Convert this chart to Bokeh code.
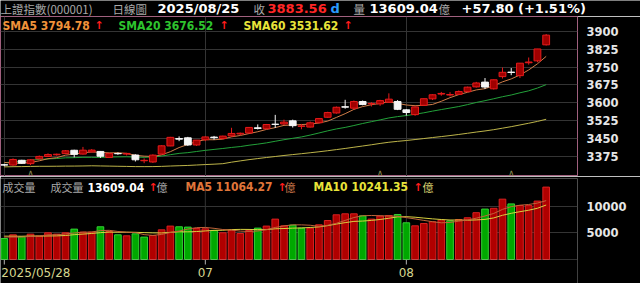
import numpy as np
import pandas as pd
from bokeh.plotting import figure
from bokeh.layouts import column
from bokeh.models import Range1d, FixedTicker, BoxAnnotation, ColumnDataSource, Label
from bokeh.core.properties import value
from bokeh.embed import file_html
from bokeh.resources import INLINE

# ---------------- data ----------------
dates = ["05/28", "05/29", "05/30",
         "06/03", "06/04", "06/05", "06/06", "06/09", "06/10", "06/11", "06/12", "06/13", "06/16",
         "06/17", "06/18", "06/19", "06/20", "06/23", "06/24", "06/25", "06/26", "06/27", "06/30",
         "07/01", "07/02", "07/03", "07/04", "07/07", "07/08", "07/09", "07/10", "07/11", "07/14",
         "07/15", "07/16", "07/17", "07/18", "07/21", "07/22", "07/23", "07/24", "07/25", "07/28",
         "07/29", "07/30", "07/31",
         "08/01", "08/04", "08/05", "08/06", "08/07", "08/08", "08/11", "08/12", "08/13", "08/14",
         "08/15", "08/18", "08/19", "08/20", "08/21", "08/22", "08/25"]
opens = [3341.5, 3340, 3360, 3346, 3366, 3376, 3383, 3388, 3402, 3386,
         3395, 3397, 3372, 3388.5, 3386, 3382, 3358, 3353, 3386, 3420,
         3451, 3454, 3424, 3446, 3457, 3451, 3462, 3470, 3474, 3496,
         3492, 3511, 3512, 3525, 3502, 3499, 3517, 3540, 3558, 3584,
         3578, 3606, 3596, 3596, 3603, 3606, 3571, 3551, 3590, 3617,
         3637, 3633, 3636, 3647, 3667, 3687, 3659, 3710, 3729, 3714,
         3768, 3776, 3843]
highs = [3345, 3368, 3362, 3365, 3380, 3389, 3388, 3403, 3404, 3416,
         3407, 3399, 3390, 3393, 3391, 3385, 3368, 3385, 3423, 3458,
         3460, 3458, 3445, 3460, 3462, 3463, 3496, 3476, 3498, 3510,
         3512, 3550, 3530, 3530, 3512, 3522, 3537, 3563, 3585, 3613,
         3610, 3610, 3603, 3613, 3640, 3612, 3574, 3585, 3618, 3636,
         3646, 3645, 3652, 3668, 3688, 3704, 3698, 3748, 3746, 3767,
         3790, 3826, 3888]
lows = [3335, 3337, 3345, 3340, 3364, 3374, 3379, 3386, 3372, 3384,
        3393, 3370, 3370, 3383, 3380, 3355, 3348, 3349, 3385, 3419,
        3440, 3420, 3420, 3440, 3446, 3448, 3458, 3464, 3473, 3489,
        3489, 3495, 3508, 3497, 3490, 3497, 3515, 3538, 3555, 3576,
        3572, 3590, 3585, 3588, 3600, 3570, 3547, 3546, 3588, 3612,
        3630, 3627, 3634, 3645, 3664, 3658, 3656, 3702, 3716, 3704,
        3760, 3770, 3840]
closes = [3339.93, 3363.45, 3347.49, 3361.98, 3376.20, 3384.10, 3385.36, 3399.77, 3384.82, 3402.32,
          3402.66, 3377.00, 3388.73, 3387.40, 3388.81, 3362.11, 3359.90, 3381.58, 3420.57, 3455.97,
          3448.45, 3424.23, 3444.43, 3457.75, 3454.79, 3461.15, 3472.32, 3473.13, 3497.48, 3493.05,
          3509.68, 3510.18, 3519.65, 3505.00, 3503.78, 3516.83, 3534.48, 3559.79, 3581.86, 3582.30,
          3605.73, 3593.66, 3597.94, 3609.71, 3615.72, 3573.21, 3559.95, 3583.31, 3617.60, 3633.99,
          3639.67, 3635.13, 3647.55, 3665.92, 3683.46, 3666.44, 3696.77, 3728.03, 3727.29, 3766.21,
          3771.10, 3825.76, 3883.56]
volumes = [3950, 4640, 4320, 4770, 4400, 5020, 4770, 5020, 5710, 5150,
           5150, 6150, 5260, 4640, 4450, 4830, 4210, 4510, 5580, 6280,
           6150, 6090, 5830, 5770, 5470, 5020, 5530, 4890, 5450, 5900,
           6280, 7590, 6330, 6470, 5900, 5900, 6520, 7330, 8400, 8590,
           8590, 8210, 7590, 8160, 8270, 8460, 6900, 6330, 6770, 7090,
           7400, 7270, 7520, 7850, 8800, 9480, 9620, 11342.15, 10450, 10150,
           10130, 10982.31, 13609.04]
# closes / volumes before 2025/05/28 (needed for the moving averages)
prior_closes = [3320.90,
                3316.93, 3324.21, 3341.96, 3381.10, 3372.55, 3366.16, 3379.83, 3371.92, 3358.73, 3419.56,
                3426.43, 3429.76, 3426.43, 3408.95, 3364.83, 3370.03, 3369.98, 3368.70, 3373.75, 3351.31,
                3335.75,
                3348.44, 3350.13, 3342.01, 3096.58, 3145.55, 3186.81, 3223.64, 3238.23, 3262.81, 3267.66,
                3276.00, 3280.34, 3276.73, 3291.43, 3299.76, 3296.36, 3297.29, 3295.06, 3288.41, 3286.65,
                3279.03,
                3316.11, 3342.67, 3352.00, 3342.00, 3369.24, 3374.87, 3403.95, 3380.82, 3367.46, 3367.58,
                3380.48, 3387.57, 3380.19, 3348.37, 3346.84, 3340.69]
prior_volumes = [4700, 4450, 4300, 4550, 4800, 4600, 4350, 4150, 4050]

tick_idx = [0, 23, 46]
tick_labels = ["2025/05/28", "07", "08"]
price_ticks = [3375, 3450, 3525, 3600, 3675, 3750, 3825, 3900]
volume_ticks = [5000, 10000]
event_idx = [3, 43, 58]

# ---------------- derived ----------------
n = len(closes)
idx = np.arange(n)
cl_all = pd.Series(prior_closes + closes)
sma5 = cl_all.rolling(5).mean().iloc[-n:].to_numpy()
sma20 = cl_all.rolling(20).mean().iloc[-n:].to_numpy()
sma60 = cl_all.rolling(60).mean().iloc[-n:].to_numpy()
vol_all = pd.Series(prior_volumes + volumes)
vma5 = vol_all.rolling(5).mean().iloc[-n:].to_numpy()
vma10 = vol_all.rolling(10).mean().iloc[-n:].to_numpy()
prev_close = [prior_closes[-1]] + closes[:-1]
chg = closes[-1] - closes[-2]
pct = chg / closes[-2] * 100

# ---------------- layout constants ----------------
BG = "#000000"
GRID = "#343434"
PXB = 8.74                      # pixels per bar
X0 = -3.8 / PXB
X1 = X0 + 577 / PXB
def xpx(px):
    return X0 + px / PXB

PU = 75 / 17.93                 # price units per pixel
P_TOP = 3900 + (30.7 - 16) * PU
P_BOT = 3900 - (176 - 30.7) * PU
def ppx(py):
    return 3900 - (py - 30.7) * PU

VU = 5000 / 26.6                # volume units per pixel
V_TOP = (259 - 178) * VU
V_BOT = -(283 - 259) * VU
def vpx(py):
    return (259 - py) * VU

CJK = "Noto Sans CJK TC"
NUM = "DejaVu Sans"
NUMC = "DejaVu Sans Condensed"
GRAY = "#a9a9a9"
RED_ARROW = "#ff1c1c"


def put(fig, x, y, s, color, font, size, bold=False, align="left"):
    fig.text(x=[x], y=[y], text=[s], text_color=color, text_font=value(font),
             text_font_size=size, text_font_style="bold" if bold else "normal",
             text_align=align, text_baseline="middle")


def base(width, height, xr, yr, **kw):
    f = figure(width=width, height=height, x_range=xr, y_range=yr,
               toolbar_location=None, output_backend="svg",
               background_fill_color=BG, border_fill_color=BG,
               min_border_left=0, min_border_bottom=0, **kw)
    return f

# ---------------- header ----------------
h = base(640, 16, Range1d(0, 640), Range1d(16, 0), x_axis_location=None,
         y_axis_location=None, min_border_top=0, min_border_right=0, outline_line_color=None)
h.grid.visible = False
put(h, 0, 8, "上證指數(000001)", GRAY, CJK, "11.5px")
put(h, 112, 8, "日線圖", GRAY, CJK, "11.5px")
put(h, 157, 8, "2025/" + dates[-1], "#ffffff", NUM, "13px", True)
put(h, 253, 8, "收", GRAY, CJK, "11.5px")
put(h, 267, 8, f"{closes[-1]:.2f}", "#ff2626", NUM, "13px", True)
put(h, 330, 8, "d", "#2a9cff", NUM, "13px", True)
put(h, 353, 8, "量", GRAY, CJK, "11.5px")
put(h, 369, 8, f"{volumes[-1]:.2f}", "#ffffff", NUM, "13px", True)
put(h, 438, 8, "億", GRAY, CJK, "11.5px")
put(h, 461, 8, f"{chg:+.2f} ({pct:+.2f}%)", "#ffffff", NUM, "13px", True)

# ---------------- price panel ----------------
p = base(640, 160, Range1d(X0, X1), Range1d(P_BOT, P_TOP), x_axis_location=None,
         y_axis_location="right", min_border_top=0, min_border_right=63,
         outline_line_color="#a0607e")
p.yaxis.ticker = FixedTicker(ticks=price_ticks)
p.yaxis.axis_line_color = None
p.yaxis.major_tick_line_color = None
p.yaxis.minor_tick_line_color = None
p.yaxis.major_label_standoff = 3
p.yaxis.major_label_text_color = "#e6e6e6"
p.yaxis.major_label_text_font = NUM
p.yaxis.major_label_text_font_size = "11.5px"
p.yaxis.major_label_text_font_style = "bold"
p.ygrid.grid_line_color = GRID
p.xgrid.ticker = FixedTicker(ticks=tick_idx)
p.xgrid.grid_line_color = GRID

p.line(idx, sma60, line_color="#bdb44a", line_width=1)
p.line(idx, sma20, line_color="#23a13a", line_width=1)
p.line(idx, sma5, line_color="#cf7c48", line_width=1)

up = [c >= o for o, c in zip(opens, closes)]
body_fill = ["#a00000" if u else "#f5f5f5" for u in up]
body_line = ["#e51b1b" if u else "#f5f5f5" for u in up]
cs = ColumnDataSource(dict(x=idx, o=opens, h=highs, l=lows, c=closes,
                           top=[max(o, c) for o, c in zip(opens, closes)],
                           bot=[min(o, c) for o, c in zip(opens, closes)],
                           fill=body_fill, line=body_line))
p.segment(x0="x", y0="l", x1="x", y1="h", line_color="line", line_width=1, source=cs)
p.vbar(x="x", top="top", bottom="bot", width=0.78, fill_color="fill", line_color="line",
       line_width=1, source=cs)

p.text(x=event_idx, y=[ppx(172)] * len(event_idx), text=["∧"] * len(event_idx),
       text_color="#8f8f52", text_font=value(NUM), text_font_size="9px",
       text_align="center", text_baseline="middle")

yr = ppx(25)
put(p, xpx(2), yr, f"SMA5 {sma5[-1]:.2f}", "#f0923a", NUMC, "12px", True)
put(p, xpx(94), yr, "↑", RED_ARROW, NUM, "11px", True)
put(p, xpx(118), yr, f"SMA20 {sma20[-1]:.2f}", "#2ec42e", NUMC, "12px", True)
put(p, xpx(219), yr, "↑", RED_ARROW, NUM, "11px", True)
put(p, xpx(243), yr, f"SMA60 {sma60[-1]:.2f}", "#e8e43a", NUMC, "12px", True)
put(p, xpx(343), yr, "↑", RED_ARROW, NUM, "11px", True)

# ---------------- volume panel ----------------
v = base(640, 107, p.x_range, Range1d(V_BOT, V_TOP), x_axis_location=None,
         y_axis_location="right", min_border_top=2, min_border_right=63,
         outline_line_color=None)
v.yaxis.ticker = FixedTicker(ticks=volume_ticks)
v.yaxis.axis_line_color = None
v.yaxis.major_tick_line_color = None
v.yaxis.minor_tick_line_color = None
v.yaxis.major_label_standoff = 3
v.yaxis.major_label_text_color = "#e6e6e6"
v.yaxis.major_label_text_font = NUM
v.yaxis.major_label_text_font_size = "11.5px"
v.yaxis.major_label_text_font_style = "bold"
v.ygrid.grid_line_color = GRID
v.xgrid.visible = False

nt = len(tick_idx)
v.segment(x0=tick_idx, y0=[0] * nt, x1=tick_idx, y1=[V_TOP] * nt, line_color=GRID)
v.segment(x0=tick_idx, y0=[0] * nt, x1=tick_idx, y1=[vpx(264)] * nt, line_color="#b4b4b4")

vup = [c >= pc for c, pc in zip(closes, prev_close)]
vs = ColumnDataSource(dict(x=idx, vol=volumes,
                           fill=["#b00000" if u else "#00a800" for u in vup],
                           line=["#d82020" if u else "#34d034" for u in vup]))
v.vbar(x="x", top="vol", bottom=0, width=0.76, fill_color="fill", line_color="line",
       line_width=1, source=vs)
v.line(idx, vma10, line_color="#d8d040", line_width=1)
v.line(idx, vma5, line_color="#c0643a", line_width=1)

v.add_layout(BoxAnnotation(left=X0, right=X1, bottom=0, top=V_TOP, fill_alpha=0,
                           line_color="#9c9c9c", line_width=1))

ls = ColumnDataSource(dict(x=tick_idx, y=[vpx(272)] * nt, t=tick_labels,
                           a=["left"] + ["center"] * (nt - 1), xo=[-3] + [0] * (nt - 1)))
v.text(x="x", y="y", text="t", text_align="a", x_offset="xo", text_baseline="middle",
       text_color="#d6d68e", text_font=value(NUM), text_font_size="12px", source=ls)

vr = vpx(186.7)
put(v, xpx(2), vr, "成交量", GRAY, CJK, "11px")
put(v, xpx(50), vr, "成交量", GRAY, CJK, "11px")
put(v, xpx(87), vr, f"{volumes[-1]:.2f}", "#ffffff", NUMC, "12px", True)
put(v, xpx(148), vr, "↑", RED_ARROW, NUM, "11px", True)
put(v, xpx(156), vr, "億", GRAY, CJK, "11px")
put(v, xpx(185), vr, f"MA5 {vma5[-1]:.2f}", "#e0763a", NUMC, "12px", True)
put(v, xpx(277), vr, "↑", RED_ARROW, NUM, "11px", True)
put(v, xpx(284), vr, "億", "#c8784a", CJK, "11px")
put(v, xpx(313), vr, f"MA10 {vma10[-1]:.2f}", "#e8e43a", NUMC, "12px", True)
put(v, xpx(413), vr, "↑", RED_ARROW, NUM, "11px", True)
put(v, xpx(422), vr, "億", "#d8d070", CJK, "11px")

# header kept in its own block so its frame is not aligned with the panels' frames
layout = column(column(h), column(p, v, spacing=0), spacing=0)
open("out.html", "w").write(file_html(layout, INLINE))
